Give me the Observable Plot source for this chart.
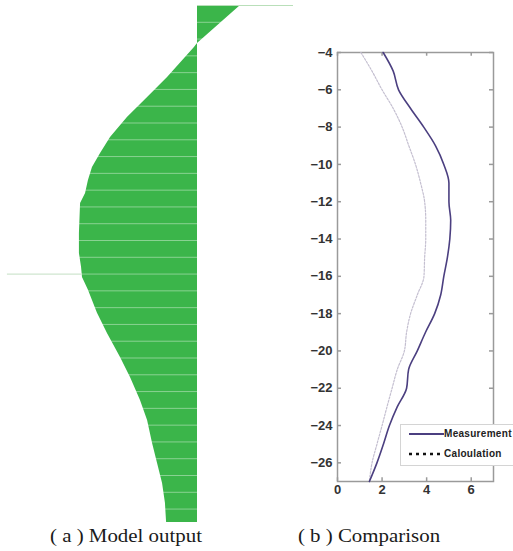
<!DOCTYPE html>
<html>
<head>
<meta charset="utf-8">
<script src="https://cdn.jsdelivr.net/npm/d3@7"></script>
<script src="https://cdn.jsdelivr.net/npm/@observablehq/plot@0.6"></script>
<style>
  html, body { margin: 0; padding: 0; background: #fff; }
  #wrap { position: relative; width: 513px; height: 551px; overflow: hidden; background: #fff; }
  .panel { position: absolute; top: 0; }
  .cap { position: absolute; font-family: "Liberation Serif", "Times New Roman", serif; font-size: 19px; color: #1a1a1a; white-space: nowrap; transform: translateX(-50%) scaleX(1.1); }
  #legend { position: absolute; left: 400px; top: 424px; width: 120px; height: 42px; background: #fff; border: 1px solid #d4d4d4; box-sizing: border-box; }
  .lg { position: absolute; left: 7px; font-family: "Liberation Sans", Arial, sans-serif; font-weight: bold; font-size: 10px; letter-spacing: 0.3px; color: #222; white-space: nowrap; }
</style>
</head>
<body>
<div id="wrap">
  <div id="left" class="panel" style="left:0px"></div>
  <div id="right" class="panel" style="left:290px"></div>
  <div id="legend">
    <div class="lg" style="top:3px"><svg width="36" height="10" style="vertical-align:middle"><line x1="1" y1="5" x2="36" y2="5" stroke="#4b3f80" stroke-width="2"/></svg>Measurement</div>
    <div class="lg" style="top:23px"><svg width="36" height="10" style="vertical-align:middle"><line x1="1" y1="5" x2="36" y2="5" stroke="#111" stroke-width="2.5" stroke-dasharray="3,4"/></svg>Caloulation</div>
  </div>
  <div class="cap" style="left:126px; top:525px">( a ) Model output</div>
  <div class="cap" style="left:369px; top:525px">( b ) Comparison</div>
</div>
<script>
// ---- (a) Model output: profile of cells (depth index vs model value)
const modelDepth = [0, 2.26, 2.5, 4.29, 5.48, 6.67, 7.86, 8.81, 9.65, 10.42, 11.2, 11.79, 13.58, 14.77, 15.6, 16.2, 16.97, 18.34, 19.54, 20.97, 22.16, 23.53, 24.72, 26.09, 27.28, 28.47, 29.66, 30.8];
const modelValue = [0.224, 0, -0.016, -0.156, -0.26, -0.365, -0.453, -0.505, -0.547, -0.568, -0.583, -0.609, -0.615, -0.615, -0.604, -0.599, -0.568, -0.521, -0.469, -0.401, -0.349, -0.297, -0.26, -0.234, -0.208, -0.182, -0.167, -0.161];
const cellLines = [1, 2, 3, 4, 5, 6, 7, 8, 9, 10, 11, 12, 13, 14, 15, 16, 17, 18, 19, 20, 21, 22, 23, 24, 25, 26, 27, 28, 29, 30];

// ---- (b) Comparison
const depth = [-4, -5, -6, -7, -8, -9, -10, -11, -12, -13, -14, -15, -16, -17, -18, -19, -20, -21, -22, -23, -24, -25, -26, -27];
const measurement = [2.05, 2.5, 2.74, 3.28, 3.87, 4.4, 4.77, 5.0, 5.0, 5.08, 5.04, 4.93, 4.77, 4.63, 4.36, 3.95, 3.58, 3.19, 3.1, 2.68, 2.33, 2.06, 1.77, 1.43];
const calculation = [1.05, 1.55, 2.0, 2.5, 2.9, 3.2, 3.5, 3.73, 3.91, 3.96, 3.96, 3.91, 3.88, 3.58, 3.28, 3.1, 3.0, 2.68, 2.45, 2.22, 2.0, 1.77, 1.55, 1.43];
const xTicks = [0, 2, 4, 6];
const yTicks = [-4, -6, -8, -10, -12, -14, -16, -18, -20, -22, -24, -26];

const shape = modelDepth.map((d, i) => ({d, v: modelValue[i]}));
const green = "#3bb54a";

const left = Plot.plot({
  width: 300, height: 530,
  marginLeft: 5, marginRight: 7, marginTop: 5, marginBottom: 8,
  x: {domain: [-1, 0.5], axis: null},
  y: {domain: [0, 30.8], reverse: true, axis: null},
  marks: [
    Plot.areaX(shape, {y: "d", x1: 0, x2: "v", fill: green}),
    Plot.ruleY(cellLines, {stroke: "#fff", strokeOpacity: 0.4, strokeWidth: 1}),
    Plot.ruleY([0], {x1: 0, x2: 0.5, stroke: "#b9dfb9", strokeWidth: 1.2}),
    Plot.ruleY([16], {x1: -0.99, x2: -0.6, stroke: "#cfe6cf", strokeWidth: 1.2})
  ]
});
document.getElementById("left").appendChild(left);

const meas = depth.map((y, i) => ({y, x: measurement[i]}));
const calc = depth.map((y, i) => ({y, x: calculation[i]}));
const frameCol = "#9a9a9a";

const right = Plot.plot({
  width: 223, height: 500,
  marginLeft: 47, marginRight: 20, marginTop: 52, marginBottom: 19,
  style: {fontFamily: "'Liberation Sans', Arial, sans-serif", fontWeight: "bold", fontSize: "13px", color: "#333"},
  x: {domain: [0, 7]},
  y: {domain: [-27, -4]},
  marks: [
    Plot.frame({stroke: frameCol, strokeWidth: 1.5}),
    Plot.axisX(xTicks, {anchor: "bottom", tickSize: 0, tickPadding: 3, label: null}),
    Plot.axisY(yTicks, {anchor: "left", tickSize: 0, tickPadding: 5, label: null}),
    Plot.ruleY(yTicks, {x1: 0, x2: 0.18, stroke: frameCol, strokeWidth: 1.5}),
    Plot.ruleY(yTicks, {x1: 6.82, x2: 7, stroke: frameCol, strokeWidth: 1.5}),
    Plot.ruleX(xTicks, {y1: -4, y2: -4.2, stroke: frameCol, strokeWidth: 1.5}),
    Plot.ruleX(xTicks, {y1: -27, y2: -26.8, stroke: frameCol, strokeWidth: 1.5}),
    Plot.line(calc, {x: "x", y: "y", stroke: "#c4bfd0", strokeWidth: 1.2, strokeDasharray: "2,1.5", curve: "monotone-y"}),
    Plot.line(meas, {x: "x", y: "y", stroke: "#4b3f80", strokeWidth: 1.6, curve: "monotone-y"})
  ]
});
document.getElementById("right").appendChild(right);
</script>
</body>
</html>
